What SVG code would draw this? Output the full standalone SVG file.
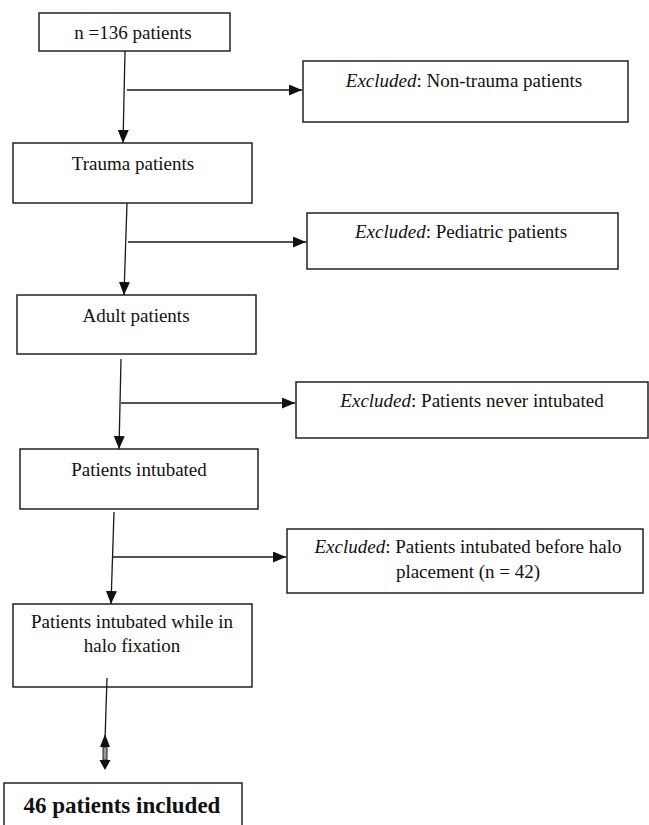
<svg xmlns="http://www.w3.org/2000/svg" width="649" height="825" viewBox="0 0 649 825">
<style>
.box{fill:#fff;stroke:#222;stroke-width:1.5}
.t{font-family:"Liberation Serif","Times New Roman",serif;font-size:19px;fill:#111;text-anchor:middle}
.b{font-weight:bold;font-size:23px}
.ln{stroke:#1a1a1a;stroke-width:1.3;fill:none}
.ah{fill:#111}
</style>
<defs>
<marker id="arr" markerWidth="13" markerHeight="11" refX="13" refY="5.5" orient="auto" markerUnits="userSpaceOnUse">
<path d="M0,0 L13,5.5 L0,11 Z" class="ah"/>
</marker>
</defs>
<rect width="649" height="825" fill="#fff"/>
<g id="n1"><rect class="box" x="39" y="13" width="191" height="38"/><text class="t" x="133" y="39">n =136 patients</text></g>
<g id="e1"><rect class="box" x="303" y="61" width="325" height="61"/><text class="t" x="464" y="87"><tspan font-style="italic">Excluded</tspan>: Non-trauma patients</text></g>
<g id="n2"><rect class="box" x="13" y="143" width="239" height="60"/><text class="t" x="133" y="170">Trauma patients</text></g>
<g id="e2"><rect class="box" x="307" y="213" width="311" height="56"/><text class="t" x="461" y="238"><tspan font-style="italic">Excluded</tspan>: Pediatric patients</text></g>
<g id="n3"><rect class="box" x="17" y="295" width="239" height="59"/><text class="t" x="136" y="322">Adult patients</text></g>
<g id="e3"><rect class="box" x="296" y="382" width="352" height="56"/><text class="t" x="472" y="407"><tspan font-style="italic">Excluded</tspan>: Patients never intubated</text></g>
<g id="n4"><rect class="box" x="20" y="449" width="238" height="60"/><text class="t" x="139" y="476">Patients intubated</text></g>
<g id="e4"><rect class="box" x="287" y="529" width="356" height="64"/><text class="t" x="468" y="553"><tspan font-style="italic">Excluded</tspan>: Patients intubated before halo</text><text class="t" x="468" y="578">placement (n = 42)</text></g>
<g id="n5"><rect class="box" x="13" y="604" width="239" height="83"/><text class="t" x="132" y="628">Patients intubated while in</text><text class="t" x="132" y="652">halo fixation</text></g>
<g id="n6"><rect class="box" x="4" y="783" width="238" height="50"/><text class="t b" x="122" y="813">46 patients included</text></g>
<g id="connectors">
<line class="ln" x1="125" y1="51" x2="123" y2="143" marker-end="url(#arr)"/>
<line class="ln" x1="127" y1="90" x2="302" y2="90" marker-end="url(#arr)"/>
<line class="ln" x1="127" y1="203" x2="124" y2="295" marker-end="url(#arr)"/>
<line class="ln" x1="128" y1="242" x2="306" y2="242" marker-end="url(#arr)"/>
<line class="ln" x1="121" y1="359" x2="119" y2="449" marker-end="url(#arr)"/>
<line class="ln" x1="121" y1="403" x2="295" y2="403" marker-end="url(#arr)"/>
<line class="ln" x1="114" y1="512" x2="111" y2="604" marker-end="url(#arr)"/>
<line class="ln" x1="112" y1="557" x2="286" y2="557" marker-end="url(#arr)"/>
<line class="ln" x1="107" y1="678" x2="105" y2="740"/>
<polygon class="ah" points="105,734 100,747 110,747"/>
<rect x="103" y="747" width="4" height="13" fill="#999" stroke="#222" stroke-width="1"/>
<polygon class="ah" points="99.5,760 110.5,760 105,770"/>
</g>
</svg>
